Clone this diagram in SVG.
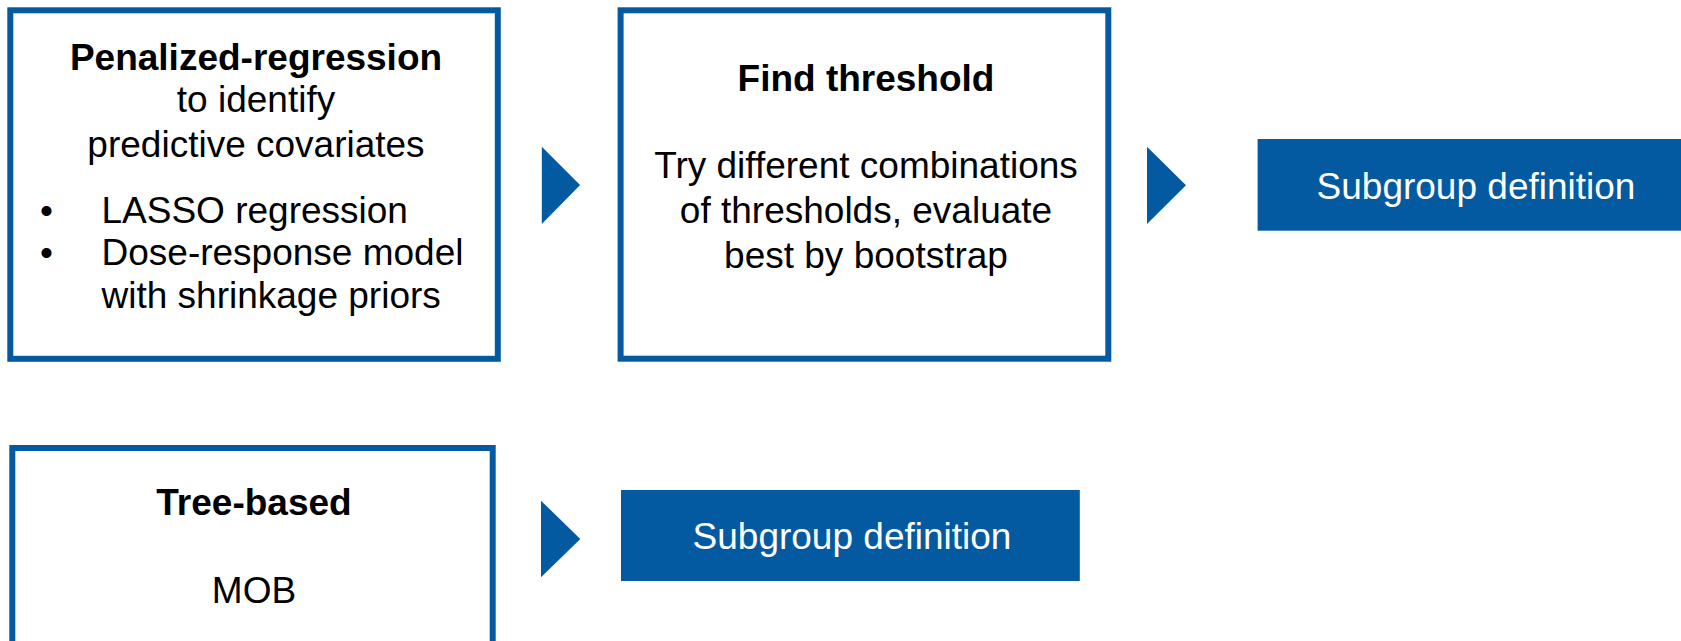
<svg xmlns="http://www.w3.org/2000/svg" width="1681" height="641" viewBox="0 0 1681 641">
<style>
.box{fill:#fff;stroke:#045AA0;stroke-width:6}
.fill{fill:#045AA0}
text{font-family:"Liberation Sans",Arial,sans-serif;font-size:37px;fill:#000}
.b{font-weight:bold}
.c{text-anchor:middle}
.w{fill:#fff}
</style>
<rect width="1681" height="641" fill="#fff"/>
<g id="penalized">
<rect class="box" x="10.3" y="10.3" width="487.5" height="348.5"/>
<text class="c b" x="256" y="70">Penalized-regression</text>
<text class="c" x="256" y="112">to identify</text>
<text class="c" x="256" y="157">predictive covariates</text>
<text x="40" y="223">•</text>
<text x="101.5" y="223">LASSO regression</text>
<text x="40" y="265">•</text>
<text x="101.5" y="265">Dose-response model</text>
<text x="101.5" y="308">with shrinkage priors</text>
</g>
<g id="threshold">
<rect class="box" x="620.6" y="10.3" width="487.7" height="348.4"/>
<text class="c b" x="866" y="91">Find threshold</text>
<text class="c" x="866" y="178">Try different combinations</text>
<text class="c" x="866" y="223">of thresholds, evaluate</text>
<text class="c" x="866" y="268">best by bootstrap</text>
</g>
<g id="subgroup1">
<rect class="fill" x="1257.6" y="139" width="430" height="91.7"/>
<text class="c w" x="1476" y="199">Subgroup definition</text>
</g>
<g id="tree">
<rect class="box" x="12.3" y="448" width="480.4" height="250"/>
<text class="c b" x="254" y="515">Tree-based</text>
<text class="c" x="254" y="603">MOB</text>
</g>
<g id="subgroup2">
<rect class="fill" x="621" y="490" width="458.8" height="91"/>
<text class="c w" x="852" y="549">Subgroup definition</text>
</g>
<g id="connectors">
<polygon class="fill" points="541.8,146.7 580.1,185 541.8,224"/>
<polygon class="fill" points="1147,146.7 1186,185.3 1147,224"/>
<polygon class="fill" points="541,500.7 580.3,539 541,577.3"/>
</g>
</svg>
